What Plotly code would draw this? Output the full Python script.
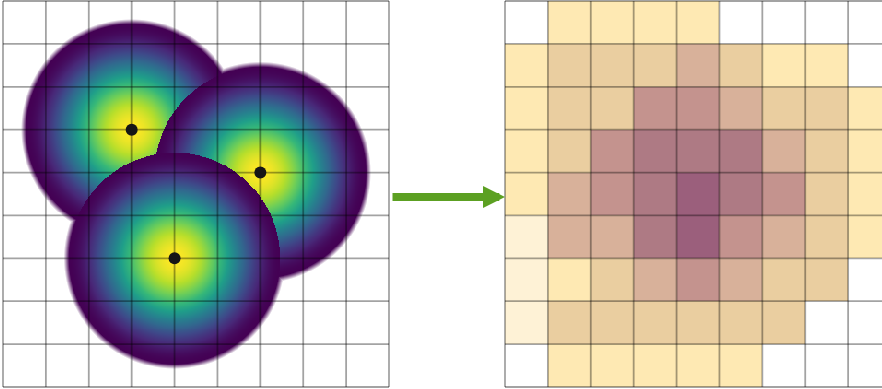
import numpy as np
import plotly.graph_objects as go
import plotly.colors as pc

# ---------------- data ----------------
# left panel: point locations (grid units, y counted from the top) and kernel radius
point_x = [3, 6, 4]
point_y = [3, 4, 6]
kernel_radius = 2.46
grid_lines = list(range(10))

# right panel: density class of each 9x9 cell (row 0 = top)
cell_levels = [
    [0, 2, 2, 2, 2, 0, 0, 0, 0],
    [2, 3, 3, 3, 4, 3, 2, 2, 0],
    [2, 3, 3, 5, 5, 4, 3, 3, 2],
    [2, 3, 5, 6, 6, 6, 4, 3, 2],
    [2, 4, 5, 6, 7, 6, 5, 3, 2],
    [1, 4, 4, 6, 7, 5, 4, 3, 2],
    [1, 2, 3, 4, 5, 4, 3, 3, 0],
    [1, 3, 3, 3, 3, 3, 3, 0, 0],
    [0, 2, 2, 2, 2, 2, 0, 0, 0],
]
level_colors = ["#ffffff", "#fef2d6", "#fee9b3", "#eacea0", "#d8b19a",
                "#c4938e", "#ae7a84", "#9b5f7c"]

# ---------------- density surface (layered quartic kernels) ----------------
N = 420
xs = np.linspace(0, 9, N)
ys = np.linspace(0, 9, N)
XX, YY = np.meshgrid(xs, ys)
fade = 0.045
blur = 0.12
Z = np.full(XX.shape, np.nan)
covered = np.zeros(XX.shape, dtype=bool)
mind = np.full(XX.shape, np.inf)
for px, py in reversed(list(zip(point_x, point_y))):
    d = np.hypot(XX - px, YY - py)
    inside = (d <= kernel_radius) & ~covered
    t = d[inside] / kernel_radius
    Z[inside] = (1 - t ** 2) ** 2
    covered |= d <= kernel_radius
    mind = np.minimum(mind, d - kernel_radius)
edge = (~covered) & (mind < blur)
Z[edge] = -fade * mind[edge] / blur
Z[(~covered) & (mind >= blur)] = -fade

vir = pc.sequential.Viridis
span = 1 + fade
cs = [[0.0, "#ffffff"]]
for i, c in enumerate(vir):
    cs.append([(fade + i / (len(vir) - 1)) / span, c])

# discrete colourscale for right panel
nlev = len(level_colors)
dcs = []
for i, c in enumerate(level_colors):
    dcs.append([i / nlev, c])
    dcs.append([(i + 1) / nlev, c])

# grid line coordinates
gx, gy = [], []
for g in grid_lines:
    gx += [g, g, None]
    gy += [grid_lines[0], grid_lines[-1], None]
    gx += [grid_lines[0], grid_lines[-1], None]
    gy += [g, g, None]

W, H = 882, 389
c = 386 / 9.0
line_style = dict(color="rgba(0,0,0,0.36)", width=1.8)

fig = go.Figure()
fig.add_trace(go.Heatmap(x=xs, y=ys, z=Z.astype(np.float32), colorscale=cs,
                         zmin=-fade, zmax=1, showscale=False, hoverinfo="skip",
                         xaxis="x", yaxis="y"))
fig.add_trace(go.Scatter(x=gx, y=gy, mode="lines", line=line_style,
                         hoverinfo="skip", xaxis="x", yaxis="y"))
fig.add_trace(go.Scatter(x=point_x, y=point_y, mode="markers",
                         marker=dict(color="#161616", size=12),
                         hoverinfo="skip", xaxis="x", yaxis="y"))

fig.add_trace(go.Heatmap(x=[i + 0.5 for i in range(9)], y=[i + 0.5 for i in range(9)],
                         z=cell_levels, colorscale=dcs, zmin=-0.5, zmax=nlev - 0.5,
                         showscale=False, hoverinfo="skip", xaxis="x2", yaxis="y2"))
fig.add_trace(go.Scatter(x=gx, y=gy, mode="lines", line=line_style,
                         hoverinfo="skip", xaxis="x2", yaxis="y2"))

ax_common = dict(showgrid=False, zeroline=False, showticklabels=False,
                 ticks="", showline=False, fixedrange=True)
yr = [9 + 2 / c, -1 / c]
fig.update_layout(
    width=W, height=H, margin=dict(l=0, r=0, t=0, b=0),
    paper_bgcolor="white", plot_bgcolor="white", showlegend=False,
    xaxis=dict(domain=[0, 392 / W], range=[-3 / c, 9 + 3 / c], **ax_common),
    yaxis=dict(domain=[0, 1], range=yr, **ax_common),
    xaxis2=dict(domain=[502 / W, 1], range=[-3 / c, (W - 505) / c], **ax_common),
    yaxis2=dict(domain=[0, 1], range=yr, **ax_common),
)

fig.add_annotation(x=505 / W, y=1 - 197 / H, xref="paper", yref="paper",
                   ax=-114, ay=0, axref="pixel", ayref="pixel", text="",
                   showarrow=True, arrowhead=2, arrowsize=0.55, arrowwidth=8,
                   arrowcolor="#5ca022", standoff=0)

fig.write_html("out.html", config={"displayModeBar": False},
               post_script="document.body.style.margin='0';document.body.style.padding='0';document.body.style.overflow='hidden';")
